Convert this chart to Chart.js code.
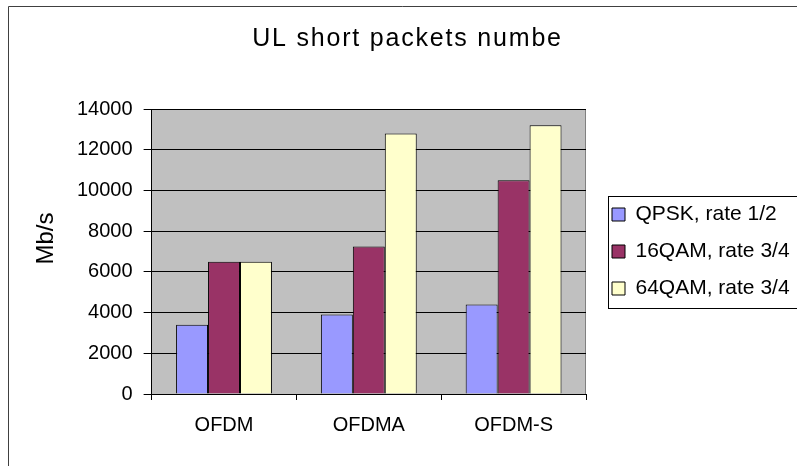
<!DOCTYPE html>
<html>
<head>
<meta charset="utf-8">
<script src="https://cdn.jsdelivr.net/npm/chart.js@4.4.1/dist/chart.umd.min.js"></script>
<style>
  html, body { margin: 0; padding: 0; background: #fff; }
  #wrap { width: 797px; height: 466px; }
</style>
</head>
<body>
<div id="wrap"><canvas id="ulChart" width="797" height="466"></canvas></div>
<script>
// chart data
const categories = ['OFDM', 'OFDMA', 'OFDM-S'];
const seriesNames = ['QPSK, rate 1/2', '16QAM, rate 3/4', '64QAM, rate 3/4'];
const qpskValues = [3400, 3900, 4400];
const qam16Values = [6500, 7250, 10500];
const qam64Values = [6500, 12800, 13200];
const yTicks = [0, 2000, 4000, 6000, 8000, 10000, 12000, 14000];
const chartTitle = 'UL short packets numbe';
const yTitle = 'Mb/s';

const seriesColors = ['#9999ff', '#993366', '#ffffcc'];
const FONT = "'Liberation Sans', Arial, sans-serif";

Chart.defaults.font.family = FONT;
Chart.defaults.color = '#000';

// grey plot area + outer frame
const backgroundPlugin = {
    id: 'background',
    beforeDraw(chart) {
        const ctx = chart.ctx;
        const a = chart.chartArea;
        ctx.save();
        ctx.fillStyle = '#fff';
        ctx.fillRect(0, 0, chart.width, chart.height);
        ctx.strokeStyle = '#404040';
        ctx.lineWidth = 1;
        ctx.beginPath();
        ctx.moveTo(8.5, chart.height);
        ctx.lineTo(8.5, 6.5);
        ctx.lineTo(chart.width, 6.5);
        ctx.stroke();
        ctx.fillStyle = '#c0c0c0';
        ctx.fillRect(a.left, a.top, a.right - a.left, a.bottom - a.top);
        ctx.strokeStyle = '#808080';
        ctx.beginPath();
        ctx.moveTo(Math.round(a.right) - 0.5, a.top);
        ctx.lineTo(Math.round(a.right) - 0.5, a.bottom);
        ctx.stroke();
        ctx.restore();
    }
};

// titles (letter spaced main title, y title), legend frame
const decorPlugin = {
    id: 'decor',
    afterLayout(chart) {
        const lg = chart.legend;
        lg.left += 10;
        lg.right = chart.width + 40;
        lg.width = lg.right - lg.left;
    },
    afterDraw(chart) {
        const ctx = chart.ctx;
        const a = chart.chartArea;
        ctx.save();
        ctx.font = '25px ' + FONT;
        ctx.letterSpacing = '1.8px';
        ctx.fillStyle = '#000';
        ctx.textBaseline = 'alphabetic';
        ctx.textAlign = 'left';
        const w = ctx.measureText(chartTitle).width;
        ctx.fillText(chartTitle, 407.5 - w / 2, 46);
        ctx.letterSpacing = '0px';

        // y axis title, sits a bit above the middle of the plot
        ctx.save();
        ctx.translate(46, (a.top + a.bottom) / 2 - 13);
        ctx.rotate(-Math.PI / 2);
        ctx.font = '24px ' + FONT;
        ctx.textAlign = 'center';
        ctx.textBaseline = 'middle';
        ctx.fillText(yTitle, 0, 0);
        ctx.restore();

        const lg = chart.legend;
        const cy = (a.top + a.bottom) / 2;
        ctx.strokeStyle = '#000';
        ctx.lineWidth = 1;
        ctx.strokeRect(Math.round(lg.left + 12) + 0.5, Math.round(cy - 56) + 0.5, 300, 112);
        ctx.restore();
    }
};

new Chart(document.getElementById('ulChart').getContext('2d'), {
    type: 'bar',
    data: {
        labels: categories,
        datasets: [
            { label: seriesNames[0], data: qpskValues, backgroundColor: seriesColors[0], borderColor: '#000', borderWidth: 1 },
            { label: seriesNames[1], data: qam16Values, backgroundColor: seriesColors[1], borderColor: '#000', borderWidth: 1 },
            { label: seriesNames[2], data: qam64Values, backgroundColor: seriesColors[2], borderColor: '#000', borderWidth: 1 }
        ]
    },
    options: {
        responsive: false,
        animation: false,
        devicePixelRatio: 1,
        layout: { padding: { left: 66, right: 31, top: 109, bottom: 15 } },
        datasets: {
            bar: { categoryPercentage: 0.662, barPercentage: 1.0 }
        },
        plugins: {
            title: { display: false },
            tooltip: { enabled: false },
            legend: {
                position: 'right',
                fullSize: false,
                maxWidth: 180,
                labels: {
                    boxWidth: 13,
                    boxHeight: 13,
                    padding: 16,
                    color: '#000',
                    font: { size: 21 }
                }
            }
        },
        scales: {
            x: {
                grid: { display: true, offset: true, drawOnChartArea: false, drawTicks: true, tickLength: 6, color: '#000' },
                border: { color: '#000' },
                ticks: { padding: 13.5, font: { size: 20 }, color: '#000' }
            },
            y: {
                min: 0,
                max: 14000,
                afterBuildTicks: (scale) => { scale.ticks = yTicks.map(v => ({ value: v })); },
                grid: { color: '#000', tickLength: 8 },
                border: { color: '#000' },
                ticks: {
                    padding: 11,
                    font: { size: 20 },
                    color: '#000',
                    callback: (value) => String(value)
                },
                title: { display: false }
            }
        }
    },
    plugins: [backgroundPlugin, decorPlugin]
});
</script>
</body>
</html>
